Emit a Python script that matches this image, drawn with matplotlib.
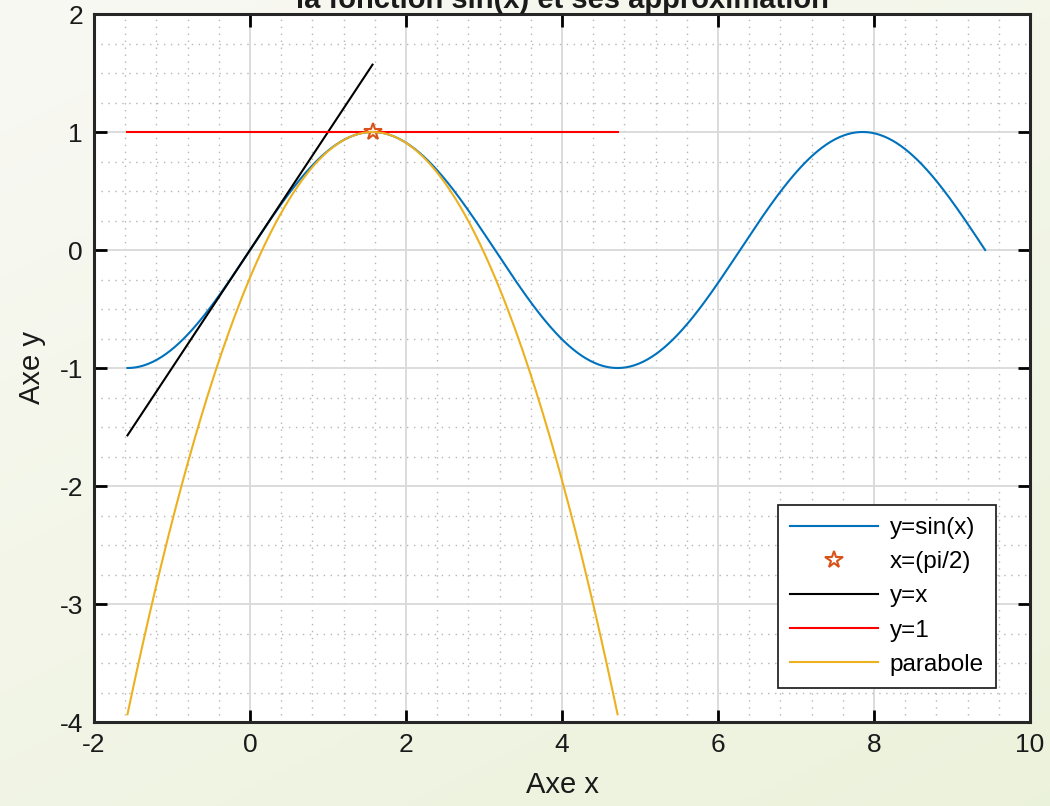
import numpy as np
import matplotlib
matplotlib.use('Agg')
import matplotlib.pyplot as plt
from matplotlib.ticker import MultipleLocator

# Donnees : les courbes sont des fonctions (sin(x) et ses approximations en pi/2)
x_sin = np.linspace(-np.pi / 2, 3 * np.pi, 600)
x_tan = np.linspace(-np.pi / 2, np.pi / 2, 100)
x_hor = np.linspace(-np.pi / 2, 3 * np.pi / 2, 100)
x_par = np.linspace(-np.pi / 2, 3 * np.pi / 2, 300)
x_star = [np.pi / 2]
y_star = [1.0]

labels = ['y=sin(x)', 'x=(pi/2)', 'y=x', 'y=1', 'parabole']
title = 'la fonction sin(x) et ses approximation'

plt.rcParams['font.family'] = ['Liberation Sans', 'DejaVu Sans']
plt.rcParams['axes.unicode_minus'] = False

fig = plt.figure(figsize=(10.5, 8.06), dpi=100)

# fond degrade clair/vert
bg = fig.add_axes([0, 0, 1, 1], zorder=-10)
gx, gy = np.meshgrid(np.linspace(0, 1, 200), np.linspace(0, 1, 200))
g = np.clip(0.6 * gy + 0.4 * gx, 0, 1)
c1 = np.array([0.975, 0.975, 0.955])
c2 = np.array([0.925, 0.950, 0.860])
img = c1[None, None, :] * (1 - g[..., None]) + c2[None, None, :] * g[..., None]
bg.imshow(img, aspect='auto', extent=[0, 1, 0, 1], origin='upper')
bg.axis('off')

ax = fig.add_axes([94 / 1050, 1 - 722 / 806, (1030 - 94) / 1050, (722 - 14) / 806])
ax.set_facecolor('white')

ax.plot(x_sin, np.sin(x_sin), color='#0072BD', lw=1.5, label=labels[0])
ax.plot(x_star, y_star, linestyle='none', marker='*', markersize=13,
        markerfacecolor='none', markeredgecolor='#D95319', markeredgewidth=1.5,
        label=labels[1])
ax.plot(x_tan, x_tan, color='black', lw=1.5, label=labels[2])
ax.plot(x_hor, np.ones_like(x_hor), color='#FF0000', lw=1.5, label=labels[3])
ax.plot(x_par, 1 - (x_par - np.pi / 2) ** 2 / 2, color='#EDB120', lw=1.5, label=labels[4])

ax.set_xlim(-2, 10)
ax.set_ylim(-4, 2)
ax.xaxis.set_major_locator(MultipleLocator(2))
ax.xaxis.set_minor_locator(MultipleLocator(0.4))
ax.yaxis.set_major_locator(MultipleLocator(1))
ax.yaxis.set_minor_locator(MultipleLocator(0.25))

ax.grid(which='major', color='#d9d9d9', lw=1.3, ls='-')
ax.grid(which='minor', color='#b5b5b5', lw=1.0, ls=(0, (1, 4)))
ax.set_axisbelow(True)

ax.tick_params(which='major', direction='in', length=9, width=2, top=True, right=True,
               labelsize=19, labelcolor='#1a1a1a', pad=8)
ax.tick_params(which='minor', length=0, top=True, right=True)
for s in ax.spines.values():
    s.set_linewidth(2.2)
    s.set_color('#262626')

ax.set_xlabel('Axe x', fontsize=21, color='#1a1a1a', labelpad=10)
ax.set_ylabel('Axe y', fontsize=21, color='#1a1a1a', labelpad=10)
ax.set_title(title, fontsize=21, fontweight='bold', color='#1a1a1a', pad=2)

leg = ax.legend(loc='lower right', fontsize=17.5, handlelength=3.6, borderpad=0.5,
                labelspacing=0.5, handletextpad=0.5, borderaxespad=1.4,
                fancybox=False, framealpha=1, edgecolor='#262626')
leg.get_frame().set_linewidth(1.3)

fig.savefig('out.png', dpi=100, facecolor=fig.get_facecolor())
